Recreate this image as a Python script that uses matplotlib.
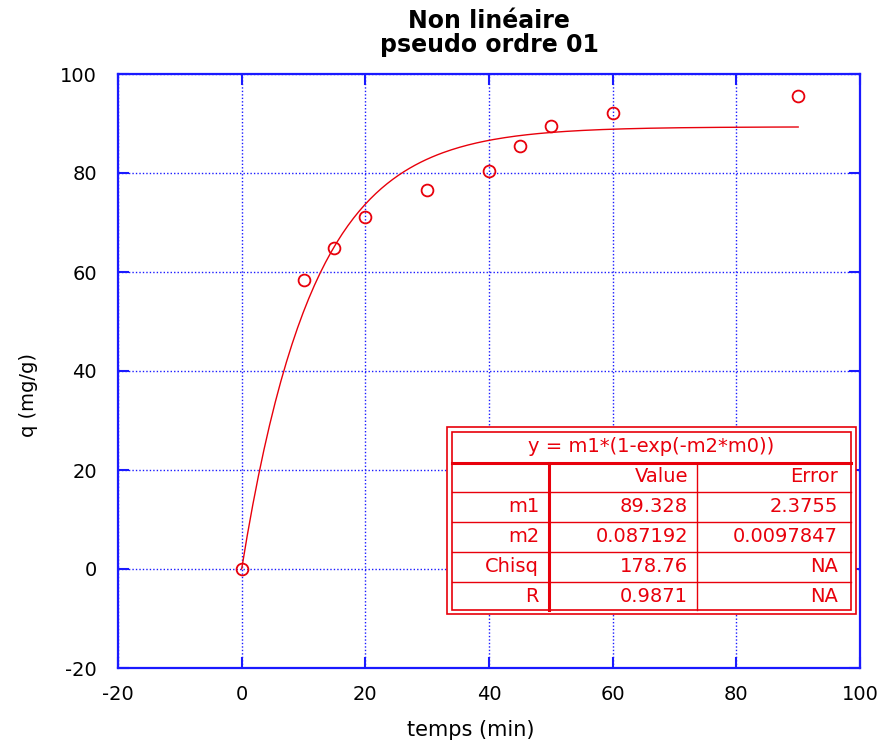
import numpy as np
import matplotlib.pyplot as plt
from matplotlib.patches import Rectangle
from matplotlib.lines import Line2D

plt.rcParams['font.family'] = ['DejaVu Sans']
plt.rcParams['axes.unicode_minus'] = False

# mesures
temps = [0, 10, 15, 20, 30, 40, 45, 50, 60, 90]
q = [0, 58.4, 64.8, 71.1, 76.6, 80.4, 85.5, 89.5, 92.1, 95.6]

# parametres du fit
m1 = 89.328
m2 = 0.087192
row_names = ['m1', 'm2', 'Chisq', 'R']
row_values = ['89.328', '0.087192', '178.76', '0.9871']
row_errors = ['2.3755', '0.0097847', 'NA', 'NA']

W, H = 884, 744
fig = plt.figure(figsize=(W / 100, H / 100), dpi=100)
ax = fig.add_axes([118 / W, 1 - 668 / H, (860 - 118) / W, (668 - 74) / H])

blue = '#1a1aff'
red = '#e8000b'

t = np.linspace(0, 90, 200)
ax.plot(t, m1 * (1 - np.exp(-m2 * t)), color=red, lw=1)
ax.plot(temps, q, 'o', mfc='none', mec=red, mew=1.3, ms=8.5)

ax.set_xlim(-20, 100)
ax.set_ylim(-20, 100)
ax.set_xticks(range(-20, 101, 20))
ax.set_yticks(range(-20, 101, 20))
ax.grid(True, color=blue, linestyle=(0, (1, 1.5)), lw=1)
ax.tick_params(direction='in', length=8, width=1.5, color=blue, top=True, right=True,
               labelsize=14)
ax.tick_params(axis='x', pad=12)
ax.tick_params(axis='y', pad=15)
for s in ax.spines.values():
    s.set_color(blue)
    s.set_linewidth(1.6)

ax.set_xlabel('temps (min)', fontsize=15)
ax.xaxis.set_label_coords(0.476, -0.088)
ax.set_ylabel('q (mg/g)', fontsize=14)
ax.yaxis.set_label_coords(-0.108, 0.46)
ax.set_title('Non linéaire\npseudo ordre 01', fontsize=17, fontweight='bold', pad=16,
             linespacing=1.0)


# tableau des resultats, en pixels de la figure
def fx(x):
    return x / W


def fy(y):
    return 1 - y / H


def hline(x0, x1, y, lw=1):
    fig.add_artist(Line2D([fx(x0), fx(x1)], [fy(y), fy(y)], color=red, lw=lw,
                          transform=fig.transFigure))


def vline(x, y0, y1, lw=1):
    fig.add_artist(Line2D([fx(x), fx(x)], [fy(y0), fy(y1)], color=red, lw=lw,
                          transform=fig.transFigure))


fig.add_artist(Rectangle((fx(447), fy(614)), fx(856 - 447), (614 - 427) / H,
                         fill=True, fc='white', ec=red, lw=1.2, transform=fig.transFigure))
fig.add_artist(Rectangle((fx(452), fy(610)), fx(851 - 452), (610 - 432) / H,
                         fill=False, ec=red, lw=1.2, transform=fig.transFigure))

hline(452, 851, 463, lw=2.2)
rows_y = [492, 522, 552, 582]
for y in rows_y:
    hline(452, 851, y, lw=1)
vline(549, 463, 610, lw=2.2)
vline(697, 463, 610, lw=1)

fs = 14
fig.text(fx(651), fy(447), 'y = m1*(1-exp(-m2*m0))', color=red, fontsize=fs,
         ha='center', va='center')
fig.text(fx(688), fy(477), 'Value', color=red, fontsize=fs, ha='right', va='center')
fig.text(fx(838), fy(477), 'Error', color=red, fontsize=fs, ha='right', va='center')
for i in range(len(row_names)):
    yc = rows_y[i] + 15
    fig.text(fx(539), fy(yc), row_names[i], color=red, fontsize=fs, ha='right', va='center')
    fig.text(fx(688), fy(yc), row_values[i], color=red, fontsize=fs, ha='right', va='center')
    fig.text(fx(838), fy(yc), row_errors[i], color=red, fontsize=fs, ha='right', va='center')

fig.savefig('out.png', dpi=100)
